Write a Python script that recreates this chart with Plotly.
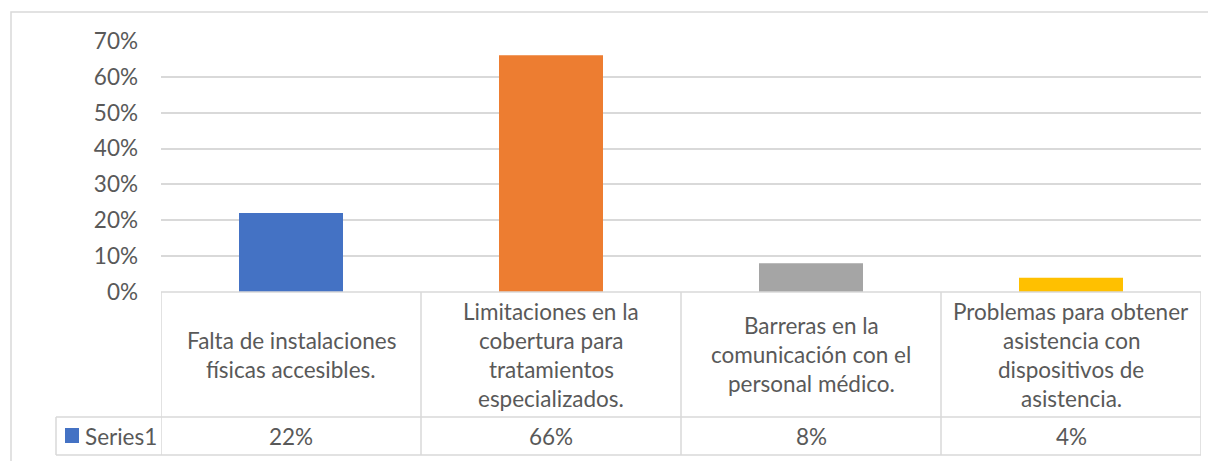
import plotly.graph_objects as go

# ---------- data ----------
categories = [
    "Falta de instalaciones<br>físicas accesibles.",
    "Limitaciones en la<br>cobertura para<br>tratamientos<br>especializados.",
    "Barreras en la<br>comunicación con el<br>personal médico.",
    "Problemas para obtener<br>asistencia con<br>dispositivos de<br>asistencia.",
]
values = [22, 66, 8, 4]
series_name = "Series1"
bar_colors = ["#4472C4", "#ED7D31", "#A5A5A5", "#FFC000"]
y_ticks = [0, 10, 20, 30, 40, 50, 60, 70]

# ---------- layout helpers ----------
# page body has an 8px margin, so the figure is drawn 8px in from the corner
OFF = 8
W, H = 1216 - 2 * OFF, 461 - OFF
L, R, T, B = 161 - OFF, W + OFF - 1201, 41 - OFF, 169
PW, PH = W - L - R, H - T - B
GRID = "#D9D9D9"
TXT = "#595959"
FONT = "Lato"
FS = 22.5


def px(x):
    # x given in screenshot pixels
    return (x - OFF - L) / PW


def py(y):
    return (H - B - (y - OFF)) / PH


fig = go.Figure()
fig.add_trace(go.Bar(
    x=list(range(len(values))),
    y=values,
    marker=dict(color=bar_colors, line=dict(width=0)),
    width=0.4,
    name=series_name,
    showlegend=False,
))

shapes = []
annotations = []

# table frame
line = dict(color=GRID, width=1.5)
shapes.append(dict(type="line", xref="paper", yref="paper",
                   x0=0, x1=1, y0=0, y1=0, line=line))
for yy in (417, 455):
    shapes.append(dict(type="line", xref="paper", yref="paper",
                       x0=px(56), x1=1, y0=py(yy), y1=py(yy), line=line))
shapes.append(dict(type="line", xref="paper", yref="paper",
                   x0=px(56), x1=px(56), y0=py(417), y1=py(455), line=line))
for i in range(len(values) + 1):
    shapes.append(dict(type="line", xref="x", yref="paper",
                       x0=i - 0.5, x1=i - 0.5, y0=0, y1=py(455), line=line))

# category labels, one annotation per line
for i, lab in enumerate(categories):
    lines = lab.split("<br>")
    n = len(lines)
    for j, t in enumerate(lines):
        yc = 354.5 + (j - (n - 1) / 2) * 29
        annotations.append(dict(x=i, xref="x", y=py(yc), yref="paper",
                                text=t, showarrow=False, xanchor="center",
                                yanchor="middle",
                                font=dict(family=FONT, size=FS, color=TXT)))

# value row
for i, v in enumerate(values):
    annotations.append(dict(x=i, xref="x", y=py(436), yref="paper",
                            text=f"{v}%", showarrow=False, xanchor="center",
                            yanchor="middle",
                            font=dict(family=FONT, size=FS, color=TXT)))

# legend key in the table
shapes.append(dict(type="rect", xref="paper", yref="paper",
                   x0=px(65), x1=px(79), y0=py(443), y1=py(428),
                   fillcolor=bar_colors[0], line=dict(width=0)))
annotations.append(dict(x=px(83), xref="paper", y=py(436), yref="paper",
                        text=series_name, showarrow=False, xanchor="left",
                        yanchor="middle",
                        font=dict(family=FONT, size=FS, color=TXT)))

# chart area border
shapes.append(dict(type="rect", xref="paper", yref="paper",
                   x0=px(11), x1=px(1240), y0=py(480), y1=py(12),
                   line=dict(color=GRID, width=1.5), fillcolor="rgba(0,0,0,0)"))

fig.update_layout(
    width=W, height=H,
    margin=dict(l=L, r=R, t=T, b=B),
    plot_bgcolor="white", paper_bgcolor="white",
    shapes=shapes, annotations=annotations,
    showlegend=False,
    xaxis=dict(range=[-0.5, len(values) - 0.5], showticklabels=False,
               showgrid=False, zeroline=False, showline=False),
    yaxis=dict(range=[0, 70], tickmode="array", tickvals=y_ticks,
               ticktext=[f"{t}%" for t in y_ticks],
               showgrid=True, gridcolor=GRID, gridwidth=1.5,
               zeroline=False, showline=False, ticklabelstandoff=22,
               tickfont=dict(family=FONT, size=FS, color=TXT)),
)

fig.write_html("out.html")
